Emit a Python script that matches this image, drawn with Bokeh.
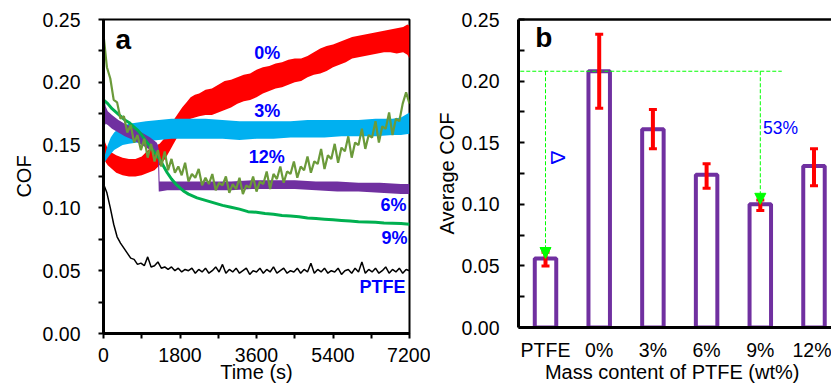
import numpy as np
from bokeh.plotting import figure
from bokeh.layouts import row, column
from bokeh.models import (Range1d, FixedTicker, NumeralTickFormatter, LinearAxis, Whisker,
                          TeeHead, Arrow, NormalHead, ColumnDataSource)
from bokeh.core.properties import value
from bokeh.embed import file_html
from bokeh.resources import INLINE

FONT = "Liberation Sans"

# ---------------- Panel a: COF vs time ----------------
red_t = [0, 40, 100, 200, 300, 450, 600, 750, 900, 1050, 1200, 1320, 1450, 1550, 1650, 1750,
         1850, 1950, 2050, 2150, 2250, 2400, 2550, 2700, 2850, 3000, 3150, 3300, 3450, 3600,
         3750, 3900, 4050, 4200, 4350, 4500, 4650, 4800, 4950, 5100, 5250, 5400, 5550, 5700,
         5850, 6000, 6150, 6300, 6450, 6600, 6750, 6900, 7050, 7150, 7200]
red_lo = [0.142, 0.137, 0.134, 0.131, 0.128, 0.126, 0.125, 0.125, 0.126, 0.128, 0.130, 0.134,
          0.139, 0.145, 0.151, 0.157, 0.163, 0.168, 0.171, 0.172, 0.173, 0.174, 0.174, 0.176,
          0.178, 0.180, 0.183, 0.185, 0.186, 0.188, 0.191, 0.193, 0.195, 0.196, 0.198, 0.200,
          0.201, 0.204, 0.206, 0.207, 0.209, 0.212, 0.214, 0.216, 0.219, 0.220, 0.221, 0.222,
          0.223, 0.224, 0.224, 0.223, 0.224, 0.222, 0.219]
red_hi = [0.165, 0.152, 0.147, 0.144, 0.142, 0.140, 0.139, 0.139, 0.141, 0.146, 0.149, 0.151,
          0.156, 0.163, 0.170, 0.175, 0.180, 0.184, 0.188, 0.190, 0.191, 0.194, 0.195, 0.198,
          0.201, 0.202, 0.204, 0.206, 0.207, 0.210, 0.212, 0.213, 0.215, 0.216, 0.218, 0.219,
          0.219, 0.221, 0.224, 0.227, 0.229, 0.230, 0.232, 0.234, 0.236, 0.237, 0.238, 0.239,
          0.240, 0.241, 0.242, 0.243, 0.244, 0.246, 0.245]

blue_t = [0, 40, 100, 170, 250, 350, 450, 600, 800, 1000, 1300, 1600, 2000, 2400, 2800, 3200,
          3600, 4000, 4400, 4800, 5200, 5600, 6000, 6400, 6800, 7000, 7200]
blue_lo = [0.135, 0.137, 0.140, 0.143, 0.146, 0.148, 0.150, 0.151, 0.152, 0.153, 0.154, 0.155,
           0.155, 0.155, 0.155, 0.154, 0.155, 0.155, 0.156, 0.156, 0.156, 0.157, 0.157, 0.157,
           0.158, 0.158, 0.159]
blue_hi = [0.139, 0.143, 0.150, 0.156, 0.160, 0.163, 0.165, 0.167, 0.168, 0.169, 0.170, 0.171,
           0.171, 0.171, 0.170, 0.169, 0.169, 0.169, 0.169, 0.170, 0.170, 0.170, 0.170, 0.171,
           0.171, 0.172, 0.176]

purple_t = [0, 10, 25, 50, 100, 200, 350, 500, 700, 900, 1100, 1250, 1280, 1300, 1320, 1500,
            2000, 2500, 3000, 3500, 4000, 4500, 5000, 5500, 6000, 6500, 7000, 7200]
purple_lo = [0.140, 0.148, 0.165, 0.167, 0.166, 0.163, 0.160, 0.157, 0.154, 0.150, 0.146, 0.143,
             0.141, 0.113, 0.113, 0.114, 0.114, 0.114, 0.114, 0.115, 0.115, 0.115, 0.114, 0.113,
             0.113, 0.112, 0.111, 0.111]
purple_hi = [0.187, 0.190, 0.187, 0.181, 0.177, 0.174, 0.170, 0.167, 0.164, 0.160, 0.156, 0.152,
             0.150, 0.146, 0.121, 0.121, 0.121, 0.121, 0.121, 0.122, 0.122, 0.122, 0.121, 0.121,
             0.120, 0.120, 0.119, 0.119]

green_t = [0, 100, 200, 300, 400, 500, 600, 700, 800, 900, 1000, 1100, 1200, 1300, 1400, 1500,
           1600, 1700, 1800, 1900, 2000, 2200, 2400, 2600, 2800, 3000, 3200, 3400, 3600, 3800,
           4000, 4200, 4400, 4600, 4800, 5000, 5200, 5400, 5600, 5800, 6000, 6200, 6400, 6600,
           6800, 7000, 7200]
green_v = [0.186, 0.183, 0.179, 0.176, 0.173, 0.170, 0.168, 0.165, 0.162, 0.158, 0.153, 0.149,
           0.144, 0.140, 0.134, 0.128, 0.123, 0.119, 0.116, 0.113, 0.111, 0.108, 0.106, 0.104,
           0.102, 0.1005, 0.099, 0.097, 0.0965, 0.0955, 0.095, 0.094, 0.0935, 0.093, 0.092,
           0.0915, 0.091, 0.0905, 0.090, 0.0895, 0.089, 0.0888, 0.0885, 0.088, 0.0878, 0.0875,
           0.087]

grid_t = list(range(0, 7201, 80))
olive_v = [0.238, 0.212, 0.203, 0.186, 0.184, 0.171, 0.173, 0.160, 0.166, 0.152,
           0.158, 0.146, 0.155, 0.140, 0.151, 0.137, 0.146, 0.133, 0.145, 0.130,
           0.139, 0.128, 0.133, 0.126, 0.136, 0.121, 0.127, 0.124, 0.131, 0.118,
           0.124, 0.119, 0.127, 0.114, 0.120, 0.118, 0.125, 0.112, 0.119, 0.115,
           0.124, 0.111, 0.118, 0.116, 0.125, 0.113, 0.121, 0.119, 0.129, 0.115,
           0.127, 0.123, 0.133, 0.120, 0.129, 0.127, 0.137, 0.124, 0.133, 0.130,
           0.141, 0.128, 0.137, 0.135, 0.147, 0.131, 0.142, 0.139, 0.151, 0.136,
           0.148, 0.145, 0.157, 0.140, 0.152, 0.150, 0.163, 0.147, 0.158, 0.156,
           0.169, 0.152, 0.165, 0.163, 0.176, 0.158, 0.171, 0.169, 0.183, 0.192,
           0.183]
black_v = [0.119, 0.112, 0.100, 0.087, 0.077, 0.072, 0.068, 0.064, 0.060, 0.059,
           0.055, 0.056, 0.054, 0.061, 0.053, 0.054, 0.057, 0.052, 0.053, 0.051,
           0.053, 0.050, 0.052, 0.049, 0.051, 0.050, 0.052, 0.048, 0.051, 0.049,
           0.052, 0.048, 0.050, 0.053, 0.049, 0.055, 0.048, 0.051, 0.049, 0.052,
           0.048, 0.050, 0.052, 0.047, 0.050, 0.049, 0.052, 0.048, 0.051, 0.049,
           0.053, 0.048, 0.050, 0.052, 0.048, 0.050, 0.049, 0.052, 0.048, 0.051,
           0.049, 0.056, 0.048, 0.051, 0.049, 0.052, 0.048, 0.050, 0.049, 0.052,
           0.047, 0.050, 0.051, 0.048, 0.052, 0.049, 0.057, 0.048, 0.051, 0.049,
           0.052, 0.048, 0.050, 0.053, 0.048, 0.051, 0.049, 0.052, 0.048, 0.051,
           0.050]

time_ticks = [0, 1800, 3600, 5400, 7200]
time_minor = [900, 2700, 4500, 6300]
cof_ticks = [0.0, 0.05, 0.10, 0.15, 0.20, 0.25]
cof_minor = [0.025, 0.075, 0.125, 0.175, 0.225]

# ---------------- Panel b: average COF ----------------
categories = ["PTFE", "0%", "3%", "6%", "9%", "12%"]
avg_cof = [0.056, 0.208, 0.161, 0.124, 0.100, 0.131]
err_hi = [0.061, 0.238, 0.177, 0.133, 0.1035, 0.145]
err_lo = [0.050, 0.178, 0.145, 0.113, 0.095, 0.115]


def style_axis(ax, tick_out, tick_in):
    ax.axis_line_width = 3
    ax.axis_line_color = "black"
    ax.major_tick_line_width = 2
    ax.minor_tick_line_width = 2
    ax.major_tick_out = tick_out
    ax.major_tick_in = tick_in
    ax.minor_tick_out = tick_out
    ax.minor_tick_in = tick_in
    ax.major_label_text_font = FONT
    ax.major_label_text_font_size = "19.5px"
    ax.major_label_text_color = "black"
    ax.axis_label_text_font = FONT
    ax.axis_label_text_font_size = "20px"
    ax.axis_label_text_font_style = "normal"
    ax.axis_label_text_color = "black"


pa = figure(width=430, height=385, x_range=Range1d(0, 7200), y_range=Range1d(0, 0.25),
            title=None, output_backend="svg", toolbar_location=None,
            min_border_left=103, min_border_right=21, min_border_top=19, min_border_bottom=52)
pa.xgrid.visible = False
pa.ygrid.visible = False
pa.outline_line_color = "black"
pa.outline_line_width = 2
pa.background_fill_color = "white"
pa.border_fill_color = "white"

pa.varea(x=red_t, y1=red_lo, y2=red_hi, fill_color="#ff0000")
pa.varea(x=blue_t, y1=blue_lo, y2=blue_hi, fill_color="#00b0f0")
pa.varea(x=purple_t, y1=purple_lo, y2=purple_hi, fill_color="#7030a0")
pa.line(green_t, green_v, line_color="#00b050", line_width=3)
pa.line(grid_t, olive_v, line_color="#6b9a3a", line_width=2.2)
pa.line(grid_t, black_v, line_color="black", line_width=1.5)

xa = pa.below[0]
style_axis(xa, 5, 0)
xa.ticker = FixedTicker(ticks=time_ticks, minor_ticks=time_minor)
xa.major_label_standoff = 9
xa.axis_label = "Time (s)"
xa.axis_label_standoff = -4

ya = pa.left[0]
style_axis(ya, 5, 0)
ya.ticker = FixedTicker(ticks=cof_ticks, minor_ticks=cof_minor)
ya.formatter = NumeralTickFormatter(format="0.00")
ya.major_label_standoff = 18
ya.axis_label = "COF"
ya.axis_label_standoff = 5

lab_font = dict(text_font=value(FONT), text_font_size="18px", text_font_style="bold",
                text_color="#0000ff", text_baseline="middle")
pa.text(x=[3852, 3852, 3840], y=[0.2237, 0.1775, 0.1409], text=["0%", "3%", "12%"],
        text_align="center", **lab_font)
pa.text(x=[7129, 7153, 7106], y=[0.1027, 0.0760, 0.0374], text=["6%", "9%", "PTFE"],
        text_align="right", **lab_font)
pa.text(x=[282], y=[0.2341], text=["a"], text_font=value(FONT), text_font_size="28px",
        text_font_style="bold", text_color="black", text_align="left", text_baseline="middle")

# ---------------- Panel b figure ----------------
xpos = list(range(len(categories)))
pb = figure(width=401, height=385, x_range=Range1d(-0.503, 5.326), y_range=Range1d(0, 0.25),
            title=None, output_backend="svg", toolbar_location=None,
            min_border_left=88, min_border_right=0, min_border_top=19, min_border_bottom=57)
pb.xgrid.visible = False
pb.ygrid.visible = False
pb.outline_line_color = None
pb.background_fill_color = "white"
pb.border_fill_color = "white"

xb = pb.below[0]
style_axis(xb, 0, 0)
xb.ticker = FixedTicker(ticks=xpos)
xb.major_label_overrides = {i: c for i, c in zip(xpos, categories)}
xb.major_tick_line_color = None
xb.minor_tick_line_color = None
xb.major_label_standoff = 11
xb.axis_label = "Mass content of PTFE  (wt%)"
xb.axis_label_standoff = -3

yb = pb.left[0]
style_axis(yb, 0, 6)
yb.ticker = FixedTicker(ticks=cof_ticks, minor_ticks=cof_minor)
yb.formatter = NumeralTickFormatter(format="0.00")
yb.major_label_standoff = 19
yb.axis_label = "Average COF"
yb.axis_label_standoff = 1

top_axis = LinearAxis(ticker=FixedTicker(ticks=[]), axis_line_width=2.5, axis_line_color="black",
                      major_tick_line_color=None, minor_tick_line_color=None)
pb.add_layout(top_axis, "above")

pb.vbar(x=xpos, top=avg_cof, bottom=0, width=0.40, fill_color="white",
        line_color="#7030a0", line_width=4)

err_src = ColumnDataSource(dict(x=xpos, upper=err_hi, lower=err_lo))
wh = Whisker(source=err_src, base="x", upper="upper", lower="lower",
             line_color="#ff0000", line_width=4, level="annotation",
             upper_head=TeeHead(size=8, line_color="#ff0000", line_width=3),
             lower_head=TeeHead(size=8, line_color="#ff0000", line_width=3))
pb.add_layout(wh)

ref_level = avg_cof[1]
pb.line(x=[-0.47, 4.40], y=[ref_level, ref_level], line_color="#00ff00", line_width=1,
        line_dash="4 2")
for i in (0, 4):
    pb.add_layout(Arrow(x_start=xpos[i], y_start=ref_level, x_end=xpos[i], y_end=avg_cof[i],
                        line_color="#00ff00", line_width=1, line_dash="4 2", level="annotation",
                        end=NormalHead(size=11, fill_color="#00ff00", line_color="#00ff00",
                                       line_width=1)))

pb.text(x=[4.05], y=[0.1622], text=["53%"], text_font=value(FONT), text_font_size="17.5px",
        text_color="#0000ff", text_align="left", text_baseline="middle")
pb.text(x=[0.25], y=[0.138], text=["Δ"], angle=-np.pi / 2, text_font=value(FONT),
        text_font_size="21px", text_color="#0000ff", text_align="center", text_baseline="middle")
pb.text(x=[-0.19], y=[0.2351], text=["b"], text_font=value(FONT), text_font_size="28px",
        text_font_style="bold", text_color="black", text_align="left", text_baseline="middle")

layout = row(column(pa), column(pb))
open("out.html", "w").write(file_html(layout, INLINE))
